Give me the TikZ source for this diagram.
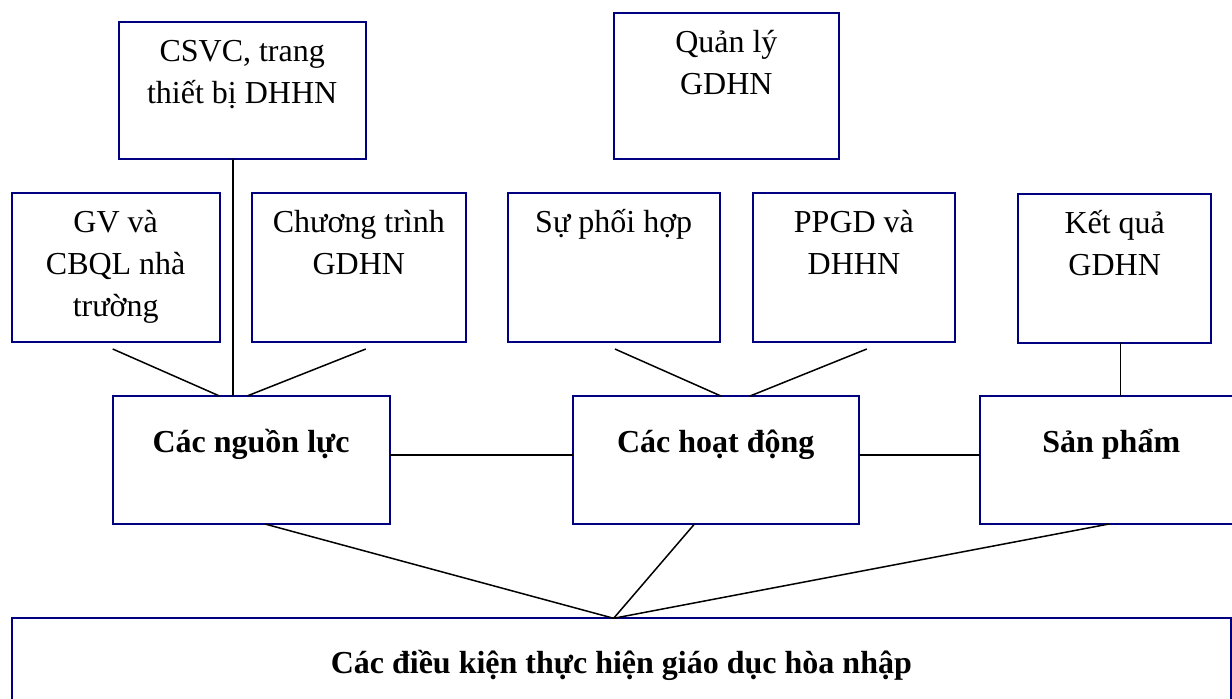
\documentclass[tikz,border=0pt]{standalone}
\usepackage{fontspec}
\setmainfont{Liberation Serif}
\definecolor{boxnavy}{RGB}{0,0,128}
% fixed-size cell, text centred and hung from the top at a given first-baseline depth
\newcommand{\cellbox}[4]{\parbox[t][#2][t]{#1}{\centering\rule{0pt}{#3}#4}}

\begin{document}
\begin{tikzpicture}[x=0.5pt,y=-0.5pt,
  box/.style={draw=boxnavy, line width=1pt, inner sep=0pt, outer sep=0pt,
    anchor=north west, font=\fontsize{16pt}{21pt}\selectfont},
  mainbox/.style={box, font=\fontsize{16pt}{21pt}\selectfont\bfseries},
  link/.style={draw=black, line width=0.75pt}]
\useasboundingbox (0,0) rectangle (1232,699);

% top row
\node[box] (csvc) at (118.6,22) {\cellbox{123.6pt}{68.5pt}{20pt}{CSVC, trang\\thiết bị DHHN}};
\node[box] (quanly) at (614.1,13) {\cellbox{112.25pt}{73pt}{20pt}{Quản lý\\GDHN}};

% second row
\node[box] (gv) at (11.9,193) {\cellbox{103.8pt}{74.5pt}{20pt}{GV và\\CBQL nhà\\trường}};
\node[box] (ct) at (251.9,193) {\cellbox{106.95pt}{74.5pt}{20pt}{Chương trình\\GDHN}};
\node[box] (sph) at (507.7,193) {\cellbox{106pt}{74.5pt}{20pt}{Sự phối hợp}};
\node[box] (ppgd) at (753.2,193) {\cellbox{100.75pt}{74.5pt}{20pt}{PPGD và\\DHHN}};
\node[box] (kq) at (1018,194) {\cellbox{96.7pt}{74.5pt}{20pt}{Kết quả\\GDHN}};

% main row
\node[mainbox] (nl) at (112.7,396) {\cellbox{138.4pt}{64pt}{28.5pt}{Các nguồn lực}};
\node[mainbox] (hd) at (572.6,396) {\cellbox{143.1pt}{64pt}{28.5pt}{Các hoạt động}};
\node[mainbox] (sp) at (980,396) {\cellbox{131.3pt}{64pt}{28.5pt}{Sản phẩm}};

% base
\node[mainbox] (dk) at (11.9,618.3) {\cellbox{609.45pt}{55pt}{27.5pt}{Các điều kiện thực hiện giáo dục hòa nhập}};

% free ends of the slanted links
\coordinate (gvfoot) at (112.7,349);
\coordinate (ctfoot) at (365.8,349);
\coordinate (sphfoot) at (614.9,349);
\coordinate (ppgdfoot) at (866.8,349);
\coordinate (meet) at ([xshift=-3.85pt]dk.north);

% links into the main row
\draw[link] (gvfoot) -- (nl.north -| gv.east);
\draw[link] (ctfoot) -- ([xshift=-2pt]nl.north);
\draw[link] ([xshift=-4.7pt]csvc.south) -- ([xshift=-4.7pt]csvc.south |- nl.north);
\draw[link] (sphfoot) -- ([xshift=2.6pt]hd.north);
\draw[link] (ppgdfoot) -- ([xshift=17.2pt]hd.north);
\draw[link] ([xshift=3pt]kq.south) -- ([xshift=3pt]kq.south |- sp.north);

% main row chain
\draw[link] ([yshift=2.5pt]nl.east) -- ([yshift=2.5pt]hd.west);
\draw[link] ([yshift=2.5pt]hd.east) -- ([yshift=2.5pt]sp.west);

% converging links to the base
\draw[link] ([xshift=6.9pt]nl.south) -- (meet);
\draw[link] ([xshift=-10.6pt]hd.south) -- (meet);
\draw[link] ([xshift=64.5pt]sp.south west) -- (meet);
\end{tikzpicture}
\end{document}
